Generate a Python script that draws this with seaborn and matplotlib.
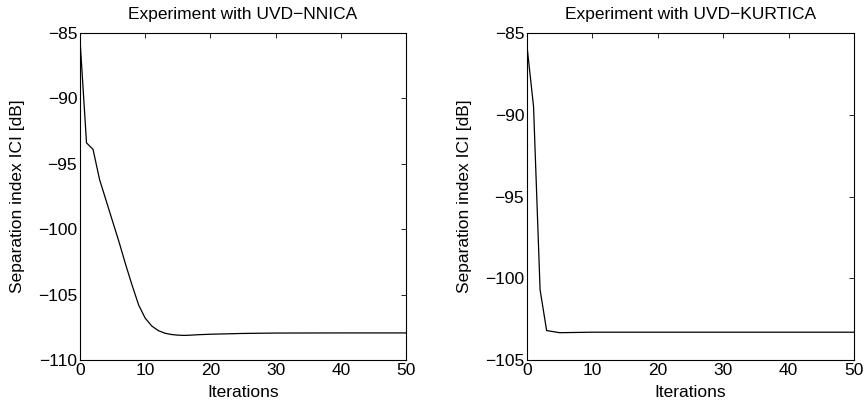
import numpy as np
import pandas as pd
import matplotlib
matplotlib.use("Agg")
import matplotlib.pyplot as plt
import seaborn as sns

# Data
iters_nn = [0, 1, 2, 3, 4, 5, 6, 7, 8, 9, 10, 11, 12, 13, 14, 15, 16, 17, 18, 20, 25, 30, 40, 50]
ici_nn = [-85.5, -93.4, -93.9, -96.2, -97.8, -99.4, -101.0, -102.7, -104.3, -105.8, -106.8,
          -107.4, -107.75, -107.95, -108.05, -108.1, -108.12, -108.1, -108.07, -108.03,
          -107.97, -107.94, -107.93, -107.93]
iters_ku = [0, 1, 2, 3, 5, 10, 20, 30, 40, 50]
ici_ku = [-85.8, -89.5, -100.7, -103.2, -103.33, -103.3, -103.3, -103.3, -103.3, -103.3]

titles = ["Experiment with UVD\u2212NNICA", "Experiment with UVD\u2212KURTICA"]
ylims = [(-110, -85), (-105, -85)]
xlabel = "Iterations"
ylabel = "Separation index ICI [dB]"

sns.set_theme(style="white")
plt.rcParams['font.family'] = ['Liberation Sans', 'DejaVu Sans']
plt.rcParams.update({
    'xtick.direction': 'in', 'ytick.direction': 'in',
    'xtick.top': True, 'ytick.right': True,
    'xtick.major.size': 3.5, 'ytick.major.size': 3.5,
    'xtick.major.width': 0.6, 'ytick.major.width': 0.6,
    'axes.edgecolor': 'black', 'axes.linewidth': 0.8,
    'xtick.color': 'black', 'ytick.color': 'black',
    'text.color': 'black', 'axes.labelcolor': 'black',
})

FS = 12.5
fig = plt.figure(figsize=(8.65, 4.09), dpi=100)
W, H = 865, 409
ax1 = fig.add_axes([80 / W, 1 - 360 / H, 326 / W, 327 / H])
ax2 = fig.add_axes([527 / W, 1 - 360 / H, 327 / W, 327 / H])

datasets = [(iters_nn, ici_nn), (iters_ku, ici_ku)]
for ax, (x, y), t, yl in zip([ax1, ax2], datasets, titles, ylims):
    df = pd.DataFrame({"it": x, "ici": y})
    sns.lineplot(data=df, x="it", y="ici", ax=ax, color="black", linewidth=0.9)
    ax.set_xlim(0, 50)
    ax.set_ylim(*yl)
    ax.set_xticks(range(0, 51, 10))
    ax.set_yticks(np.arange(yl[0], yl[1] + 1, 5))
    ax.set_title(t, fontsize=FS, pad=10)
    ax.set_xlabel(xlabel, fontsize=FS, labelpad=5)
    ax.set_ylabel(ylabel, fontsize=FS, labelpad=9)
    ax.tick_params(labelsize=FS, pad=2)
    for s in ax.spines.values():
        s.set_visible(True)
        s.set_color("black")

fig.savefig("out.png", dpi=100)
